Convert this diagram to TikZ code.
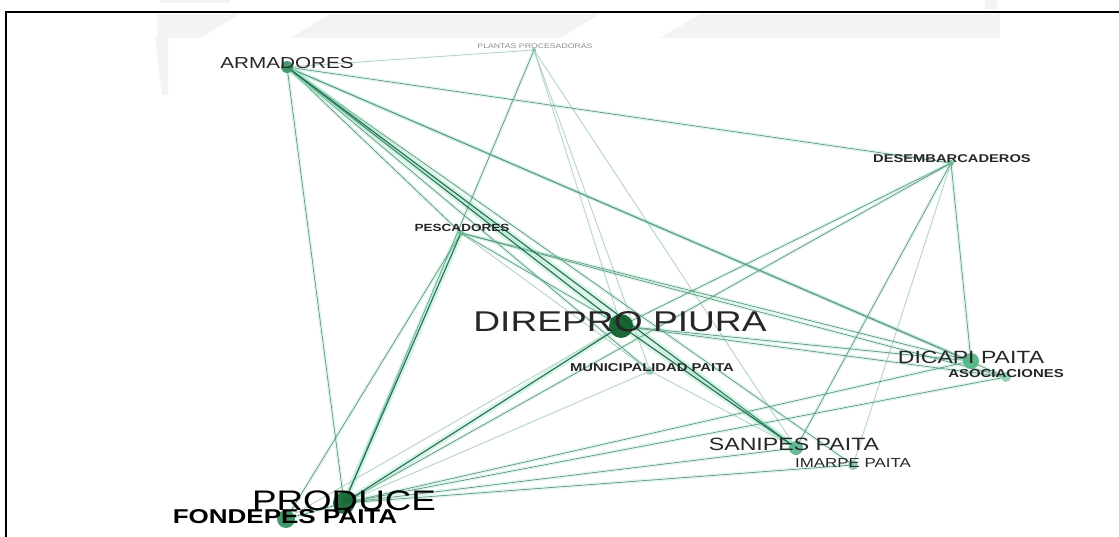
\documentclass[tikz,border=0pt]{standalone}
\usepackage{fontspec}
\newfontfamily\lbl[FakeStretch=1.3]{Liberation Sans}
\definecolor{edgec}{RGB}{95,135,115}
\definecolor{strongc}{RGB}{45,105,75}
\definecolor{faintc}{RGB}{170,192,182}
\definecolor{haloc}{RGB}{120,220,180}
\definecolor{wm}{RGB}{243,243,243}
\tikzset{
  edge/.style={draw=edgec, line width=0.6pt, preaction={draw=haloc, line width=3.5pt, opacity=0.25}},
  strongedge/.style={draw=strongc, line width=1.1pt, preaction={draw=haloc, line width=6pt, opacity=0.32}},
  faintedge/.style={draw=faintc, line width=0.5pt, preaction={draw=haloc, line width=2pt, opacity=0.12}},
  dot/.style={circle, inner sep=0pt, draw=none, opacity=0.92},
  lab/.style={inner sep=0pt, text=black!85},
}
\begin{document}
\begin{tikzpicture}[x=1pt,y=-1pt]
\useasboundingbox (0,0) rectangle (1119,537);
% watermark traces
\fill[wm] (157,14) rectangle (1000,38);
\fill[white] (240,14) -- (330,14) -- (290,38) -- (200,38) -- cycle;
\fill[white] (600,14) -- (700,14) -- (660,38) -- (560,38) -- cycle;
\fill[wm] (155,38) -- (168,38) -- (168,95) -- (162,95) -- cycle;
\fill[wm] (160,0) rectangle (230,3);
\fill[wm] (985,0) rectangle (997,9);
% frame
\draw[line width=2pt] (5.5,537) -- (5.5,12.5) -- (1119,12.5);
% node positions
\coordinate (arm) at (287,67);
\coordinate (pla) at (534,50);
\coordinate (des) at (951,163);
\coordinate (pes) at (461,233);
\coordinate (dir) at (621,326);
\coordinate (mun) at (650,371);
\coordinate (dic) at (971,361);
\coordinate (aso) at (1006,377);
\coordinate (san) at (796,448);
\coordinate (ima) at (853,465);
\coordinate (pro) at (344,503);
\coordinate (fon) at (286,519);
% faint edges
\draw[faintedge] (arm) -- (pla);
\draw[faintedge] (pla) -- (dir);
\draw[faintedge] (pla) -- (mun);
\draw[faintedge] (pla) -- (san);
\draw[faintedge] (des) -- (ima);
\draw[faintedge] (pes) -- (mun);
\draw[faintedge] (fon) -- (dir);
\draw[faintedge] (mun) -- (san);
\draw[faintedge] (pro) -- (mun);
% normal edges
\draw[edge] (pla) -- (pro);
\draw[edge] (fon) -- (pes);
\draw[edge] (arm) -- (pro);
\draw[edge] (arm) -- (des);
\draw[edge] (arm) -- (dic);
\draw[edge] (arm) -- (aso);
\draw[edge] (arm) -- (mun);
\draw[edge] (arm) -- (pes);
\draw[edge] (arm) -- (ima);
\draw[edge] (des) -- (dir);
\draw[edge] (des) -- (pro);
\draw[edge] (des) -- (san);
\draw[edge] (des) -- (dic);
\draw[edge] (dir) -- (dic);
\draw[edge] (dir) -- (aso);
\draw[edge] (pro) -- (dic);
\draw[edge] (pro) -- (aso);
\draw[edge] (pro) -- (san);
\draw[edge] (pro) -- (ima);
\draw[edge] (pes) -- (dic);
\draw[edge] (pes) -- (aso);
\draw[edge] (pes) -- (dir);
\draw[edge] (fon) -- (pro);
% strong edges
\draw[strongedge] (arm) -- (dir);
\draw[strongedge] (arm) -- (san);
\draw[strongedge] (dir) -- (san);
\draw[strongedge] (dir) -- (pro);
\draw[strongedge] (pes) -- (pro);
% dots
\node[dot, fill={rgb,255:red,60;green,145;blue,105}, minimum size=12pt] (armdot) at (arm) {};
\node[dot, fill={rgb,255:red,130;green,190;blue,165}, minimum size=4pt] (pladot) at (pla) {};
\node[dot, fill={rgb,255:red,110;green,185;blue,150}, minimum size=6pt] (desdot) at (des) {};
\node[dot, fill={rgb,255:red,110;green,185;blue,150}, minimum size=6pt] (pesdot) at (pes) {};
\node[dot, fill={rgb,255:red,10;green,90;blue,40}, minimum size=24pt] (dirdot) at (dir) {};
\node[dot, fill={rgb,255:red,150;green,205;blue,180}, minimum size=8pt] (mundot) at (mun) {};
\node[dot, fill={rgb,255:red,80;green,180;blue,130}, minimum size=16pt] (dicdot) at (dic) {};
\node[dot, fill={rgb,255:red,140;green,205;blue,175}, minimum size=10pt] (asodot) at (aso) {};
\node[dot, fill={rgb,255:red,90;green,180;blue,140}, minimum size=14pt] (sandot) at (san) {};
\node[dot, fill={rgb,255:red,130;green,195;blue,165}, minimum size=10pt] (imadot) at (ima) {};
\node[dot, fill={rgb,255:red,20;green,100;blue,50}, minimum size=22pt] (prodot) at (pro) {};
\node[dot, fill={rgb,255:red,50;green,145;blue,95}, minimum size=18pt] (fondot) at (fon) {};
% labels
\node[lab] (armlab) at (287,63) {\lbl\fontsize{15.9}{16}\selectfont ARMADORES};
\node[lab, text=black!45] (plalab) at (535,46) {\lbl\fontsize{6.7}{7}\selectfont PLANTAS PROCESADORAS};
\node[lab] (deslab) at (952,159) {\lbl\bfseries\fontsize{11.3}{12}\selectfont DESEMBARCADEROS};
\node[lab] (peslab) at (462,228) {\lbl\bfseries\fontsize{10.4}{11}\selectfont PESCADORES};
\node[lab] (dirlab) at (620,322) {\lbl\fontsize{28.6}{29}\selectfont DIREPRO PIURA};
\node[lab] (munlab) at (652,368) {\lbl\bfseries\fontsize{11.4}{12}\selectfont MUNICIPALIDAD PAITA};
\node[lab] (diclab) at (971,357) {\lbl\fontsize{17.7}{18}\selectfont DICAPI PAITA};
\node[lab] (asolab) at (1006,374) {\lbl\bfseries\fontsize{11.5}{12}\selectfont ASOCIACIONES};
\node[lab] (sanlab) at (794,444) {\lbl\fontsize{17.8}{18}\selectfont SANIPES PAITA};
\node[lab] (imalab) at (853,463) {\lbl\fontsize{13}{13}\selectfont IMARPE PAITA};
\node[lab, text=black] (prolab) at (344,501) {\lbl\fontsize{28.3}{29}\selectfont PRODUCE};
\node[lab, text=black] (fonlab) at (285,517) {\lbl\bfseries\fontsize{20}{20}\selectfont FONDEPES PAITA};
\end{tikzpicture}
\end{document}
